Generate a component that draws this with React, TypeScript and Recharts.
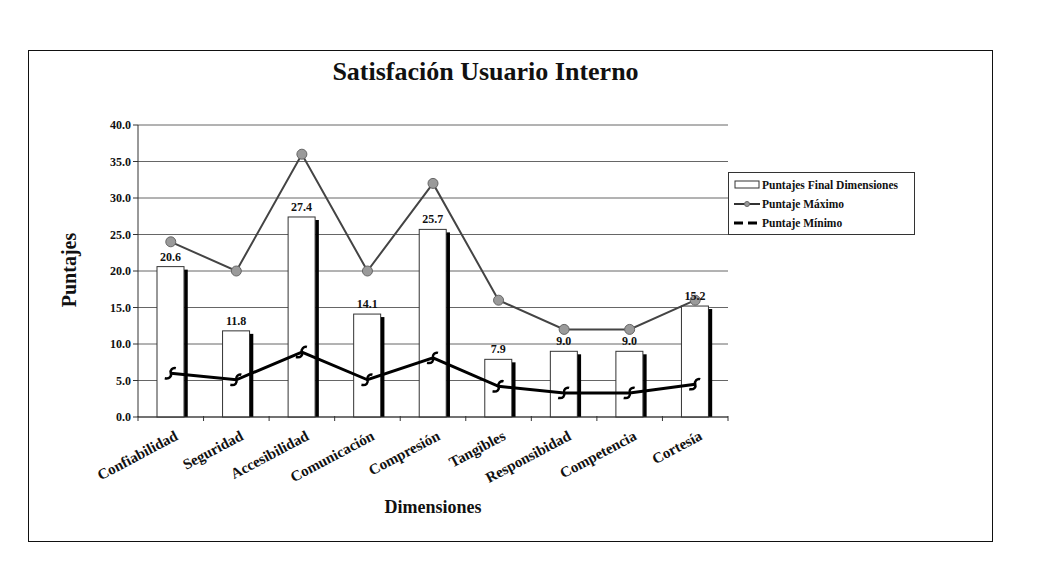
import React from 'react';
import { ComposedChart, Bar, Line, XAxis, YAxis, CartesianGrid, LabelList } from 'recharts';

const categories = ['Confiabilidad', 'Seguridad', 'Accesibilidad', 'Comunicación', 'Compresión', 'Tangibles', 'Responsibidad', 'Competencia', 'Cortesía'];
const scores = [20.6, 11.8, 27.4, 14.1, 25.7, 7.9, 9.0, 9.0, 15.2];
const maxScores = [24, 20, 36, 20, 32, 16, 12, 12, 16];
const minScores = [6.0, 5.1, 8.9, 5.1, 8.1, 4.2, 3.3, 3.3, 4.5];
const yTicks = [0, 5, 10, 15, 20, 25, 30, 35, 40];

const data = categories.map((c, i) => ({ name: c, score: scores[i], max: maxScores[i], min: minScores[i] }));

const SERIF = '"Liberation Serif", "Times New Roman", serif';
const BAND = 590 / 9;

const BarShape = (props: any) => {
  const { x, y, width, height } = props;
  return (
    <g>
      <rect x={x} y={y} width={width} height={height} fill="#fff" stroke="#333" strokeWidth={1} />
      <line x1={x + width + 2} y1={y + 3} x2={x + width + 2} y2={y + height} stroke="#000" strokeWidth={3.5} />
    </g>
  );
};

const MaxDot = (props: any) => {
  const { cx, cy, index } = props;
  return <circle key={'mx' + index} cx={cx} cy={cy} r={5} fill="#9a9a9a" stroke="#666" strokeWidth={1} />;
};

const MinDot = (props: any) => {
  const { cx, cy, index } = props;
  const d = `M ${cx - 6} ${cy + 5} C ${cx - 1} ${cy + 6} ${cx + 1} ${cy + 3} ${cx} ${cy} C ${cx - 1} ${cy - 3} ${cx + 2} ${cy - 6} ${cx + 5} ${cy - 5}`;
  return <path key={'mn' + index} d={d} fill="none" stroke="#000" strokeWidth={2.5} />;
};

const XTick = (props: any) => {
  const { x, y, payload, index } = props;
  const tx = x + 8;
  const ty = y + 22;
  return (
    <g>
      <line x1={x - BAND / 2} y1={y - 1} x2={x - BAND / 2} y2={y + 4} stroke="#333" strokeWidth={1} />
      {index === categories.length - 1 && (
        <line x1={x + BAND / 2} y1={y - 1} x2={x + BAND / 2} y2={y + 4} stroke="#333" strokeWidth={1} />
      )}
      <text x={tx} y={ty} textAnchor="end" transform={`rotate(-28, ${tx}, ${ty})`} fontFamily={SERIF} fontWeight="bold" fontSize={15} fill="#111">
        {payload.value}
      </text>
    </g>
  );
};

export default function App() {
  return (
    <div style={{ position: 'relative', width: 1026, height: 565, background: '#fff' }}>
      <div style={{ position: 'absolute', left: 20, top: 42, width: 963, height: 490, border: '1px solid #111' }} />
      <div style={{ position: 'absolute', left: 0, top: 49, width: 955, textAlign: 'center', fontFamily: SERIF, fontWeight: 'bold', fontSize: 26, color: '#111' }}>
        Satisfación Usuario Interno
      </div>
      <div style={{ position: 'absolute', left: 0, top: 0 }}>
        <ComposedChart width={1026} height={565} data={data} margin={{ top: 117, right: 306, bottom: 96, left: 70 }}>
          <CartesianGrid vertical={false} stroke="#666" strokeWidth={1} />
          <XAxis dataKey="name" height={60} tickLine={false} tickSize={0} tickMargin={0} axisLine={{ stroke: '#333' }} tick={<XTick />} interval={0} />
          <YAxis width={60} domain={[0, 40]} ticks={yTicks} tickFormatter={(v: number) => v.toFixed(1)} axisLine={{ stroke: '#333' }} tickLine={{ stroke: '#333' }} tickSize={5} tick={{ fontFamily: SERIF, fontWeight: 'bold', fontSize: 12, fill: '#111' }} />
          <Bar dataKey="score" barSize={27} shape={<BarShape />} isAnimationActive={false}>
            <LabelList dataKey="score" position="top" offset={6} formatter={(v: number) => v.toFixed(1)} style={{ fontFamily: SERIF, fontWeight: 'bold', fontSize: 12, fill: '#111' }} />
          </Bar>
          <Line type="linear" dataKey="max" stroke="#444" strokeWidth={2} dot={<MaxDot />} activeDot={false} isAnimationActive={false} />
          <Line type="linear" dataKey="min" stroke="#000" strokeWidth={3} dot={<MinDot />} activeDot={false} isAnimationActive={false} />
        </ComposedChart>
      </div>
      <div style={{ position: 'absolute', left: 22, top: 250, width: 80, height: 24, transform: 'rotate(-90deg)', transformOrigin: 'center', textAlign: 'center', fontFamily: SERIF, fontWeight: 'bold', fontSize: 20, color: '#111', whiteSpace: 'nowrap' }}>
        Puntajes
      </div>
      <div style={{ position: 'absolute', left: 325, top: 489, width: 200, textAlign: 'center', fontFamily: SERIF, fontWeight: 'bold', fontSize: 18, color: '#111' }}>
        Dimensiones
      </div>
      <div style={{ position: 'absolute', left: 720, top: 164, width: 185, height: 61, border: '1px solid #333', background: '#fff', fontFamily: SERIF, fontWeight: 'bold', fontSize: 11.5, color: '#111' }}>
        {[
          { label: 'Puntajes Final Dimensiones', kind: 'bar' },
          { label: 'Puntaje Máximo', kind: 'max' },
          { label: 'Puntaje Mínimo', kind: 'min' },
        ].map((it, i) => (
          <div key={i} style={{ position: 'absolute', left: 4, top: 5 + i * 19, height: 14, display: 'flex', alignItems: 'center', whiteSpace: 'nowrap' }}>
            <svg width={28} height={14} style={{ marginRight: 1 }}>
              {it.kind === 'bar' && <rect x={2} y={3} width={24} height={7} fill="#fff" stroke="#333" strokeWidth={1} />}
              {it.kind === 'max' && (
                <g>
                  <line x1={1} y1={7} x2={27} y2={7} stroke="#333" strokeWidth={2} />
                  <circle cx={14} cy={7} r={2.5} fill="#999" stroke="#666" />
                </g>
              )}
              {it.kind === 'min' && <line x1={1} y1={7} x2={27} y2={7} stroke="#000" strokeWidth={3} strokeDasharray="9 5" />}
            </svg>
            {it.label}
          </div>
        ))}
      </div>
    </div>
  );
}
